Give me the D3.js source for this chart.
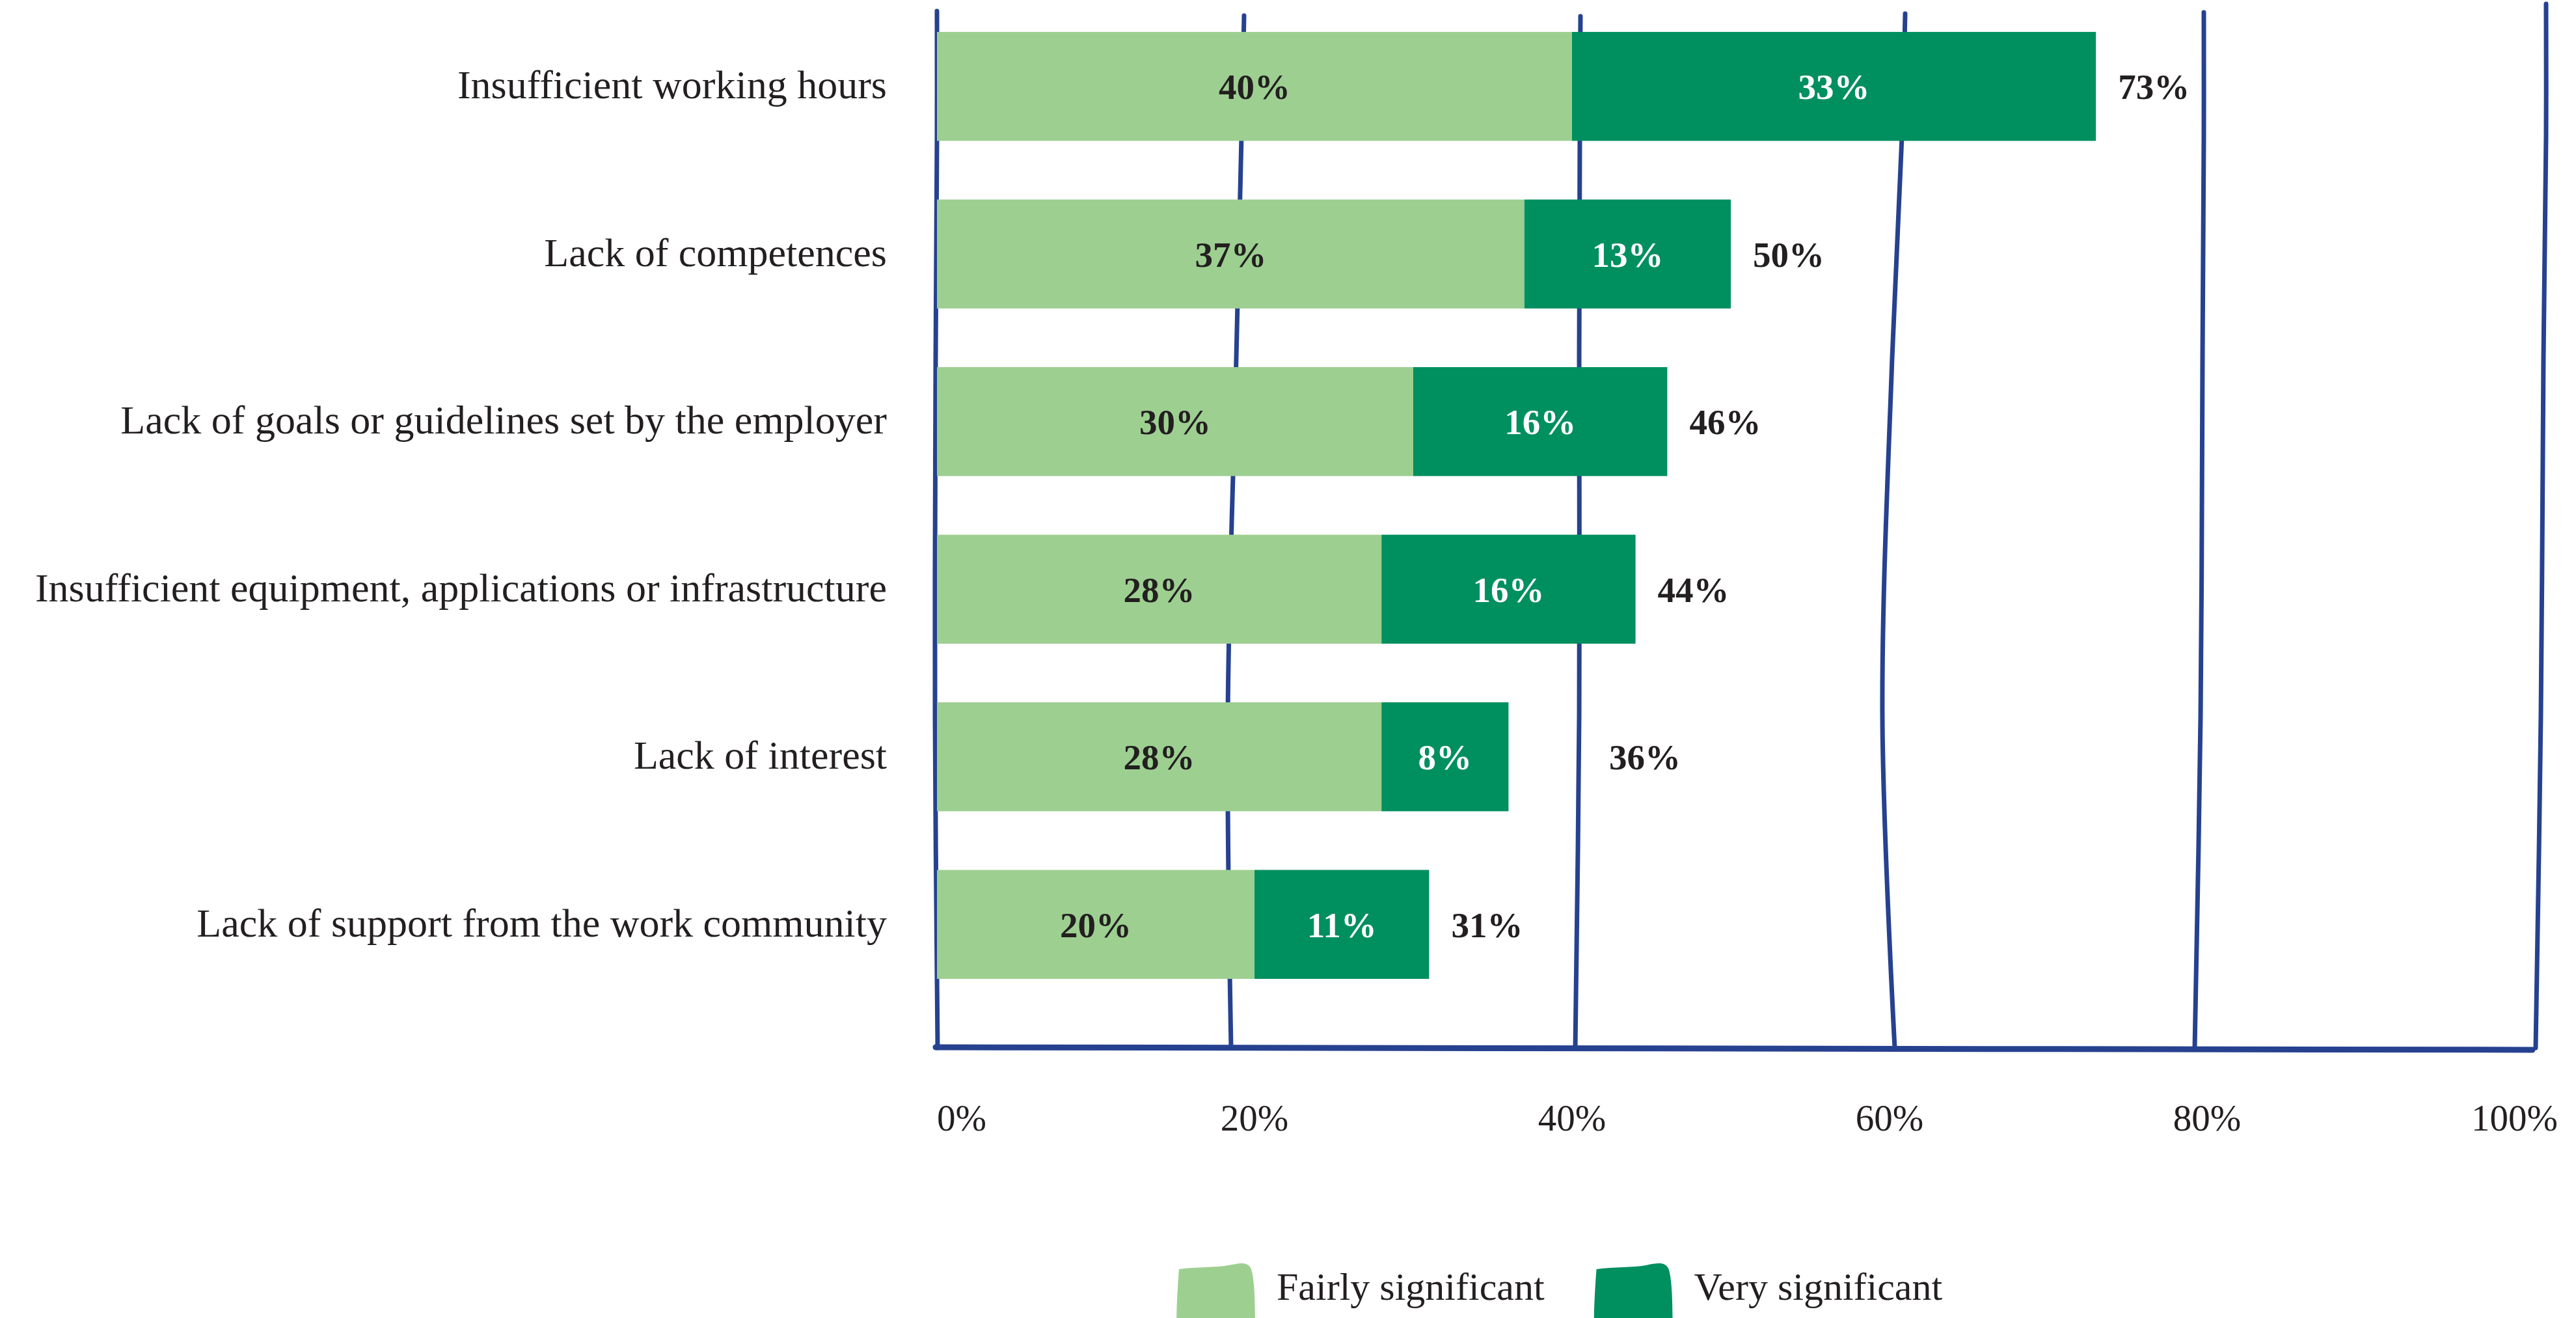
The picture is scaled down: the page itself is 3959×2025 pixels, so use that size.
<!DOCTYPE html>
<html>
<head>
<meta charset="utf-8">
<script src="https://cdn.jsdelivr.net/npm/d3@7"></script>
<style>
  html, body { margin: 0; padding: 0; background: #fff; }
  svg { display: block; }
</style>
</head>
<body>
<div id="chart"></div>
<script>
// Data
const categories = [
    'Insufficient working hours',
    'Lack of competences',
    'Lack of goals or guidelines set by the employer',
    'Insufficient equipment, applications or infrastructure',
    'Lack of interest',
    'Lack of support from the work community'
];
const fairly = [40, 37, 30, 28, 28, 20];
const very = [33, 13, 16, 16, 8, 11];
const totals = [73, 50, 46, 44, 36, 31];
const seriesNames = ['Fairly significant', 'Very significant'];
const ticks = [0, 20, 40, 60, 80, 100];

// Style
const colors = ['#9dcf91', '#008f5f'];
const gridColor = '#26418f';
const textColor = '#231f20';
const font = '"Liberation Serif", "Times New Roman", serif';

// hand drawn wobble of each gridline (px offsets at a few heights)
const wobbleY = [null, 210, 550, 1100, 1610];
const wobbleTop = [17, 24, 25, 21, 19, 6];
const wobble = [
    [0, 0, -2, -3, 1],
    [-16, -20, -28, -41, -36],
    [13, 12, 11, 11, 5],
    [24, 19, 4, -11, 8],
    [-5, -5, -7, -10, -19],
    [33, 33, 29, 25, 17]
];

const width = 3959;
const height = 2025;
const baselineY = 1610;

const svg = d3.select('#chart')
    .append('svg')
    .attr('width', width)
    .attr('height', height);

const x = d3.scaleLinear()
    .domain([0, 100])
    .range([1440, 3880]);

const y = d3.scaleBand()
    .domain(categories)
    .range([4, 1549])
    .paddingInner(0.35)
    .paddingOuter(0.175);

// Gridlines
const line = d3.line().curve(d3.curveCatmullRom);
const gridX = ticks.map((d, i) => x(d) + wobble[i][2]);

svg.append('g')
    .selectAll('path')
    .data(ticks)
    .enter()
    .append('path')
    .attr('d', (d, i) => line(wobble[i].map((o, j) => [x(d) + o, j === 0 ? wobbleTop[i] : wobbleY[j]])))
    .attr('fill', 'none')
    .attr('stroke', gridColor)
    .attr('stroke-width', 7)
    .attr('stroke-linecap', 'round');

// Baseline
svg.append('path')
    .attr('d', line([[x(0) - 2, baselineY - 1], [x(50), baselineY + 1], [x(100) + 12, baselineY + 3]]))
    .attr('fill', 'none')
    .attr('stroke', gridColor)
    .attr('stroke-width', 9)
    .attr('stroke-linecap', 'round');

// Bars
const rows = categories.map((c, i) => ({ cat: c, a: fairly[i], b: very[i], total: totals[i] }));

const bars = svg.append('g')
    .selectAll('g')
    .data(rows)
    .enter()
    .append('g');

bars.append('rect')
    .attr('x', x(0))
    .attr('y', d => y(d.cat))
    .attr('width', d => x(d.a) - x(0))
    .attr('height', y.bandwidth())
    .attr('fill', colors[0]);

bars.append('rect')
    .attr('x', d => x(d.a))
    .attr('y', d => y(d.cat))
    .attr('width', d => x(d.a + d.b) - x(d.a))
    .attr('height', y.bandwidth())
    .attr('fill', colors[1]);

const midY = d => y(d.cat) + y.bandwidth() / 2;

// Value labels
bars.append('text')
    .attr('x', d => (x(0) + x(d.a)) / 2)
    .attr('y', midY)
    .attr('dy', '0.35em')
    .attr('text-anchor', 'middle')
    .style('font-family', font)
    .style('font-weight', 'bold')
    .style('font-size', '55px')
    .style('fill', textColor)
    .text(d => d.a + '%');

bars.append('text')
    .attr('x', d => (x(d.a) + x(d.a + d.b)) / 2)
    .attr('y', midY)
    .attr('dy', '0.35em')
    .attr('text-anchor', 'middle')
    .style('font-family', font)
    .style('font-weight', 'bold')
    .style('font-size', '55px')
    .style('fill', '#fff')
    .text(d => d.b + '%');

// Totals, pushed past a gridline when they would sit on it
bars.append('text')
    .attr('y', midY)
    .attr('dy', '0.35em')
    .attr('text-anchor', 'start')
    .style('font-family', font)
    .style('font-weight', 'bold')
    .style('font-size', '55px')
    .style('fill', textColor)
    .text(d => d.total + '%')
    .attr('x', function (d) {
        let tx = x(d.a + d.b) + 34;
        const w = this.getComputedTextLength();
        gridX.forEach(g => {
            if (g > tx - 5 && g < tx + w + 5) tx = g + 46;
        });
        return tx;
    });

// Category labels
bars.append('text')
    .attr('x', x(0) - 77)
    .attr('y', midY)
    .attr('dy', '0.3em')
    .attr('text-anchor', 'end')
    .style('font-family', font)
    .style('font-size', '62px')
    .style('fill', textColor)
    .text(d => d.cat);

// Tick labels
svg.append('g')
    .selectAll('text')
    .data(ticks)
    .enter()
    .append('text')
    .attr('x', (d, i) => i === ticks.length - 1 ? x(d) + 51 : x(d))
    .attr('y', 1737)
    .attr('text-anchor', (d, i) => i === 0 ? 'start' : i === ticks.length - 1 ? 'end' : 'middle')
    .style('font-family', font)
    .style('font-size', '57px')
    .style('fill', textColor)
    .text(d => d + '%');

// Legend
const legend = svg.append('g');
let lx = 1808;
seriesNames.forEach((name, i) => {
    const s = lx;
    legend.append('path')
        .attr('d', `M${s + 4},${1950} C${s + 30},${1946} ${s + 60},${1948} ${s + 80},${1944}
            C${s + 98},${1940} ${s + 110},${1938} ${s + 115},${1950}
            C${s + 120},${1965} ${s + 121},${2000} ${s + 121},${2040}
            L${s},${2040} C${s},${2010} ${s + 2},${1975} ${s + 4},${1950} Z`)
        .attr('fill', colors[i]);
    const t = legend.append('text')
        .attr('x', s + 154)
        .attr('y', 1997)
        .style('font-family', font)
        .style('font-size', '60px')
        .style('fill', textColor)
        .text(name);
    lx = s + 154 + t.node().getComputedTextLength() + 76;
});
</script>
</body>
</html>
